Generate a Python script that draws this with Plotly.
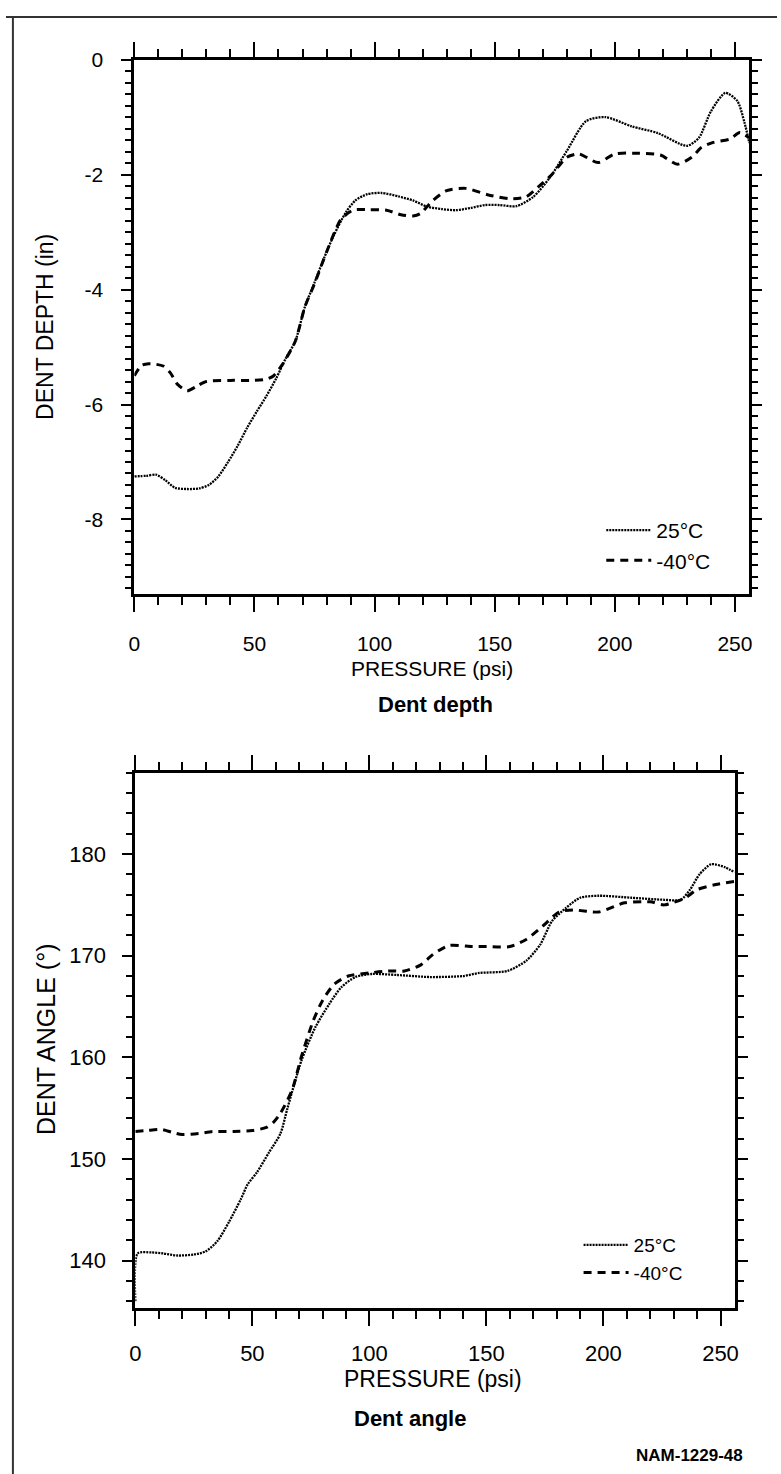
import plotly.graph_objects as go

# ---------------- data ----------------
pressure_depth_25 = [0, 5, 9, 13, 17, 22, 27, 31, 35, 39, 43, 47, 51, 55, 59, 63, 67, 71, 75, 79, 83, 88, 92,
                     97, 103, 110, 116, 122, 128, 134, 140, 146, 152, 159, 166, 173, 180, 188, 196, 207, 218,
                     230, 235, 240, 246, 251, 254, 256]
depth_25 = [-7.25, -7.24, -7.22, -7.32, -7.45, -7.47, -7.46, -7.4, -7.25, -7.0, -6.72, -6.4, -6.12, -5.85,
            -5.55, -5.2, -4.9, -4.3, -3.88, -3.45, -3.06, -2.66, -2.45, -2.34, -2.32, -2.38, -2.45, -2.56,
            -2.6, -2.62, -2.58, -2.53, -2.53, -2.55, -2.39, -2.05, -1.59, -1.07, -1.0, -1.16, -1.28, -1.5,
            -1.36, -0.9, -0.58, -0.72, -1.1, -1.45]

pressure_depth_m40 = [0, 3, 6, 9, 12, 15, 18, 22, 26, 30, 40, 50, 55, 58, 62, 67, 71, 75, 80, 86, 91, 97, 105,
                      111, 116, 119, 124, 130, 138, 147, 156, 163, 168, 174, 180, 185, 193, 200, 210, 219, 226,
                      232, 236, 241, 248, 252, 256]
depth_m40 = [-5.5, -5.32, -5.29, -5.3, -5.33, -5.45, -5.65, -5.76, -5.68, -5.6, -5.58, -5.58, -5.56, -5.5,
             -5.28, -4.9, -4.3, -3.9, -3.35, -2.78, -2.62, -2.61, -2.62, -2.7, -2.72, -2.68, -2.46, -2.28,
             -2.24, -2.35, -2.42, -2.39, -2.22, -1.99, -1.7, -1.64, -1.79, -1.64, -1.63, -1.66, -1.82, -1.7,
             -1.53, -1.44, -1.38, -1.27, -1.36]

pressure_angle_25 = [0, 1, 7, 12, 18, 25, 30, 35, 40, 45, 48, 52, 57, 62, 65, 71, 77, 83, 88, 94, 101, 112,
                     126, 140, 147, 159, 167, 173, 178, 184, 190, 198, 212, 226, 233, 237, 241, 246, 252, 256]
angle_25 = [136.0, 140.7, 140.8, 140.7, 140.5, 140.6, 140.9, 141.9, 143.8, 146.0, 147.5, 148.7, 150.6, 152.5,
            155.0, 159.7, 163.0, 165.3, 166.9, 167.9, 168.2, 168.1, 167.9, 168.0, 168.3, 168.5, 169.5, 171.1,
            173.4, 174.7, 175.7, 175.9, 175.7, 175.5, 175.5, 176.5, 178.0, 179.0, 178.7, 178.2]

pressure_angle_m40 = [0, 5, 11, 16, 20, 27, 33, 42, 50, 56, 59, 62, 67, 71, 76, 80, 85, 91, 100, 108, 115, 122,
                      127, 134, 144, 150, 160, 167, 174, 181, 187, 198, 209, 220, 226, 235, 240, 248, 256]
angle_m40 = [152.7, 152.8, 152.9, 152.6, 152.4, 152.5, 152.7, 152.7, 152.8, 153.1, 153.6, 154.5, 156.8, 160.1,
             163.6, 165.6, 167.2, 168.0, 168.3, 168.5, 168.5, 169.1, 170.1, 171.0, 170.9, 170.9, 170.9, 171.6,
             172.9, 174.3, 174.5, 174.3, 175.2, 175.3, 175.0, 175.7, 176.5, 177.0, 177.3]

series_names = ["25°C", "-40°C"]
x_ticks = [0, 50, 100, 150, 200, 250]
depth_ticks = [0, -2, -4, -6, -8]
angle_ticks = [140, 150, 160, 170, 180]

# ---------------- figure ----------------
W, H = 781, 1474
FONT = "Liberation Sans, Arial, Helvetica, sans-serif"

def px(x):
    return x / W

def py(y):
    return 1 - y / H

dot_style = dict(color="black", width=2.3, dash="2px,1px")
dash_style = dict(color="black", width=3, dash="8px,6px")

fig = go.Figure()
fig.add_trace(go.Scatter(x=pressure_depth_25, y=depth_25, mode="lines", name=series_names[0],
                         line=dict(shape="spline", smoothing=0.7, **dot_style),
                         xaxis="x", yaxis="y", legend="legend"))
fig.add_trace(go.Scatter(x=pressure_depth_m40, y=depth_m40, mode="lines", name=series_names[1],
                         line=dict(shape="spline", smoothing=0.7, **dash_style),
                         xaxis="x", yaxis="y", legend="legend"))
fig.add_trace(go.Scatter(x=pressure_angle_25, y=angle_25, mode="lines", name=series_names[0],
                         line=dict(shape="spline", smoothing=0.7, **dot_style),
                         xaxis="x2", yaxis="y2", legend="legend2"))
fig.add_trace(go.Scatter(x=pressure_angle_m40, y=angle_m40, mode="lines", name=series_names[1],
                         line=dict(shape="spline", smoothing=0.7, **dash_style),
                         xaxis="x2", yaxis="y2", legend="legend2"))

axis_common = dict(showline=True, linecolor="black", linewidth=3, mirror="ticks", ticks="outside",
                   tickcolor="black", tickwidth=2, showgrid=False, zeroline=False)

def xaxis(domain, anchor, fsize, standoff):
    return dict(axis_common, domain=domain, anchor=anchor, range=[0, 256], tickvals=x_ticks,
                ticktext=[str(v) for v in x_ticks], ticklen=15, ticklabelstandoff=standoff,
                tickfont=dict(family=FONT, size=fsize, color="black"),
                minor=dict(dtick=10, ticks="outside", ticklen=8, tickwidth=2, tickcolor="black"))

fig.update_layout(
    width=W, height=H,
    margin=dict(l=0, r=0, t=0, b=0),
    paper_bgcolor="white", plot_bgcolor="white",
    font=dict(family=FONT, color="black"),
    xaxis=xaxis([px(130), px(753)], "y", 21, 14),
    yaxis=dict(axis_common, domain=[py(587), py(48)], anchor="x", range=[-9.3, 0],
               tickvals=depth_ticks, ticktext=[("-" + str(-v)) if v < 0 else str(v) for v in depth_ticks],
               ticklen=10, ticklabelstandoff=14,
               tickfont=dict(family=FONT, size=21, color="black"),
               minor=dict(dtick=0.2, ticks="outside", ticklen=6, tickwidth=2, tickcolor="black")),
    xaxis2=xaxis([px(131), px(738)], "y2", 22, 8),
    yaxis2=dict(axis_common, domain=[py(1307), py(767)], anchor="x2", range=[135.3, 188],
                tickvals=angle_ticks, ticktext=[str(v) for v in angle_ticks],
                ticklen=10, ticklabelstandoff=12,
                tickfont=dict(family=FONT, size=22, color="black"),
                minor=dict(dtick=2, ticks="outside", ticklen=6, tickwidth=2, tickcolor="black")),
    legend=dict(x=px(603), y=py(502), xanchor="left", yanchor="top", bgcolor="rgba(0,0,0,0)",
                itemwidth=45, font=dict(family=FONT, size=21, color="black"), tracegroupgap=0),
    legend2=dict(x=px(580), y=py(1224), xanchor="left", yanchor="top", bgcolor="rgba(0,0,0,0)",
                 itemwidth=45, font=dict(family=FONT, size=19, color="black"), tracegroupgap=0),
    showlegend=True,
)

annotations = [
    dict(text="DENT DEPTH (in)", x=px(40), y=py(317), textangle=-90, font=dict(size=23)),
    dict(text="PRESSURE (psi)", x=px(432), y=py(662), font=dict(size=21)),
    dict(text="<b>Dent depth</b>", x=px(435), y=py(698), font=dict(size=22)),
    dict(text="DENT ANGLE (°)", x=px(40), y=py(1035), textangle=-90, font=dict(size=25)),
    dict(text="PRESSURE (psi)", x=px(433), y=py(1378), font=dict(size=23)),
    dict(text="<b>Dent angle</b>", x=px(409), y=py(1418), font=dict(size=22)),
    dict(text="<b>NAM-1229-48</b>", x=px(692), y=py(1455), font=dict(size=17)),
]
fig.update_layout(annotations=[dict(a, xref="paper", yref="paper", showarrow=False,
                                    xanchor="center", yanchor="middle",
                                    font=dict(family=FONT, color="black", **a["font"]))
                               for a in annotations])

# page frame (top and left border of the scanned page)
fig.update_layout(shapes=[
    dict(type="line", xref="paper", yref="paper", x0=0, x1=1, y0=py(5), y1=py(5),
         line=dict(color="#333", width=2)),
    dict(type="line", xref="paper", yref="paper", x0=px(7), x1=px(7), y0=py(5), y1=0,
         line=dict(color="#333", width=2)),
])

fig.write_html("out.html", config={"displayModeBar": False},
               post_script="document.body.style.margin='0px';document.body.style.overflow='hidden';")
